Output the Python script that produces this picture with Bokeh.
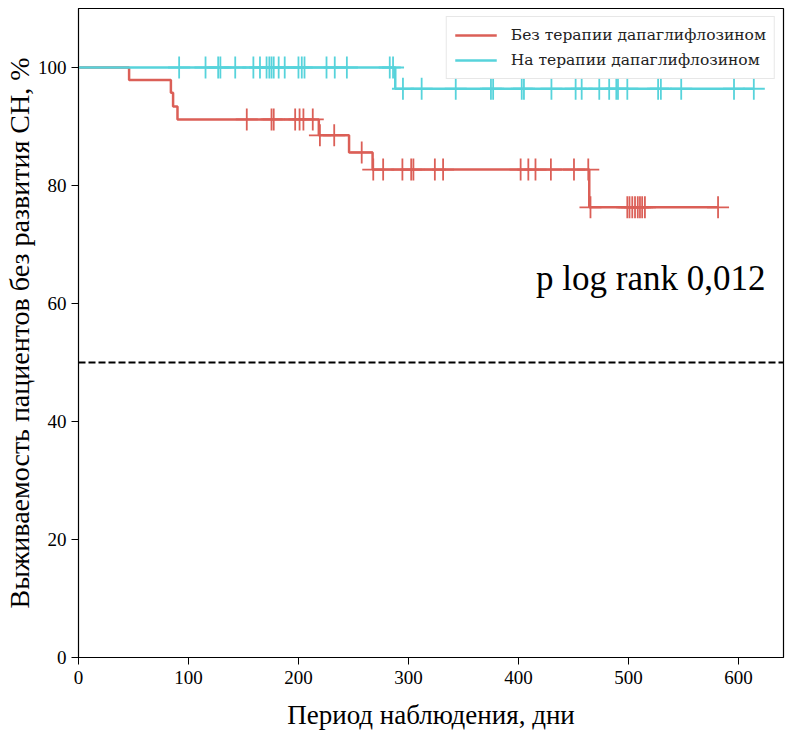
import numpy as np
from bokeh.plotting import figure
from bokeh.models import Span, Label, Legend, LegendItem, Range1d, FixedTicker
from bokeh.embed import file_html
from bokeh.resources import INLINE

# ---- data ----
label_no = "Без терапии дапаглифлозином"
label_yes = "На терапии дапаглифлозином"

no_event_times = [0, 46, 84, 86, 90, 218.5, 246, 267.4, 464.4]
no_survival = [100, 97.9, 95.7, 93.4, 91.2, 88.5, 85.6, 82.7, 76.3]
no_censored = [153, 175.5, 177.5, 197, 201, 204.5, 213, 219.5, 232.5, 257.5,
               268, 277, 294.5, 302.5, 304.5, 324, 331.5, 402, 409, 415.5,
               429.5, 450.5, 463.5, 465.5, 499, 501, 503.5, 506, 508.5, 510.5,
               512.5, 515, 581.5]

yes_event_times = [0, 288]
yes_survival = [100, 96.4]
yes_censored = [91.5, 115.5, 127, 129, 142.5, 159, 165, 171, 173.5, 175.5,
                177.5, 182, 187.5, 200, 203, 205.5, 225.5, 233, 244, 283, 286,
                295, 312, 343, 375, 377, 403, 405, 430, 452, 457.5, 473.5,
                482.5, 489, 490.5, 499, 527, 529.5, 548, 596, 614]

median_line = 50
p_text = "p log rank 0,012"
x_ticks = [0, 100, 200, 300, 400, 500, 600]
y_ticks = [0, 20, 40, 60, 80, 100]

RED = "#db5f57"
CYAN = "#57d3db"
SERIF = "Liberation Serif"

p = figure(width=785, height=735, output_backend="svg", toolbar_location=None,
           x_range=Range1d(0, 641), y_range=Range1d(0, 110),
           min_border_left=78, min_border_right=2, min_border_top=8,
           min_border_bottom=78)
p.xgrid.visible = False
p.ygrid.visible = False
p.outline_line_color = "black"
p.outline_line_width = 1.2
p.background_fill_color = "white"
p.border_fill_color = "white"

def curve(times, surv, cens):
    t = np.asarray(times, float)
    s = np.asarray(surv, float)
    c = np.asarray(cens, float)
    end = max(c.max(), t.max())
    xs = np.append(t, end)
    ys = np.append(s, s[-1])
    cy = s[np.searchsorted(t, c, side="right") - 1]
    return xs, ys, c, cy

items = []
for times, surv, cens, col, lab in [
        (no_event_times, no_survival, no_censored, RED, label_no),
        (yes_event_times, yes_survival, yes_censored, CYAN, label_yes)]:
    xs, ys, cx, cy = curve(times, surv, cens)
    r = p.step(xs, ys, mode="after", line_color=col, line_width=2.5)
    p.scatter(cx, cy, marker="cross", size=22, line_color=col, line_width=1.8)
    items.append(LegendItem(label=lab, renderers=[r]))

p.add_layout(Span(location=median_line, dimension="width", line_color="black",
                  line_width=2, line_dash="7 3"))

p.add_layout(Label(x=416, y=64.2, text=p_text, text_font=SERIF,
                   text_font_size="35px", text_color="black",
                   text_baseline="alphabetic"))

legend = Legend(items=items, location="top_right", margin=8,
                label_text_font="DejaVu Serif", label_text_font_size="15.5px",
                label_text_color="#222222",
                glyph_width=42, glyph_height=20, label_height=20,
                label_standoff=14, padding=8, spacing=5,
                border_line_color="#d0d0d0", border_line_width=1,
                background_fill_color="white", background_fill_alpha=0.85)
p.add_layout(legend)

for ax in (p.xaxis[0], p.yaxis[0]):
    ax.major_label_text_font = SERIF
    ax.major_label_text_font_size = "19px"
    ax.major_label_text_color = "black"
    ax.axis_label_text_font = SERIF
    ax.axis_label_text_font_style = "normal"
    ax.axis_label_text_color = "black"
    ax.major_tick_out = 7
    ax.major_tick_in = 0
    ax.minor_tick_out = 0
    ax.minor_tick_in = 0
    ax.axis_line_color = "black"
    ax.major_tick_line_color = "black"

p.xaxis.major_label_standoff = 6
p.yaxis.major_label_standoff = 5
p.xaxis.ticker = FixedTicker(ticks=x_ticks)
p.yaxis.ticker = FixedTicker(ticks=y_ticks)
p.xaxis.axis_label = "Период наблюдения, дни"
p.yaxis.axis_label = "Выживаемость пациентов без развития СН, %"
p.xaxis.axis_label_text_font_size = "27px"
p.yaxis.axis_label_text_font_size = "28px"
p.xaxis.axis_label_standoff = 13
p.yaxis.axis_label_standoff = 0

open("out.html", "w").write(file_html(p, INLINE))
